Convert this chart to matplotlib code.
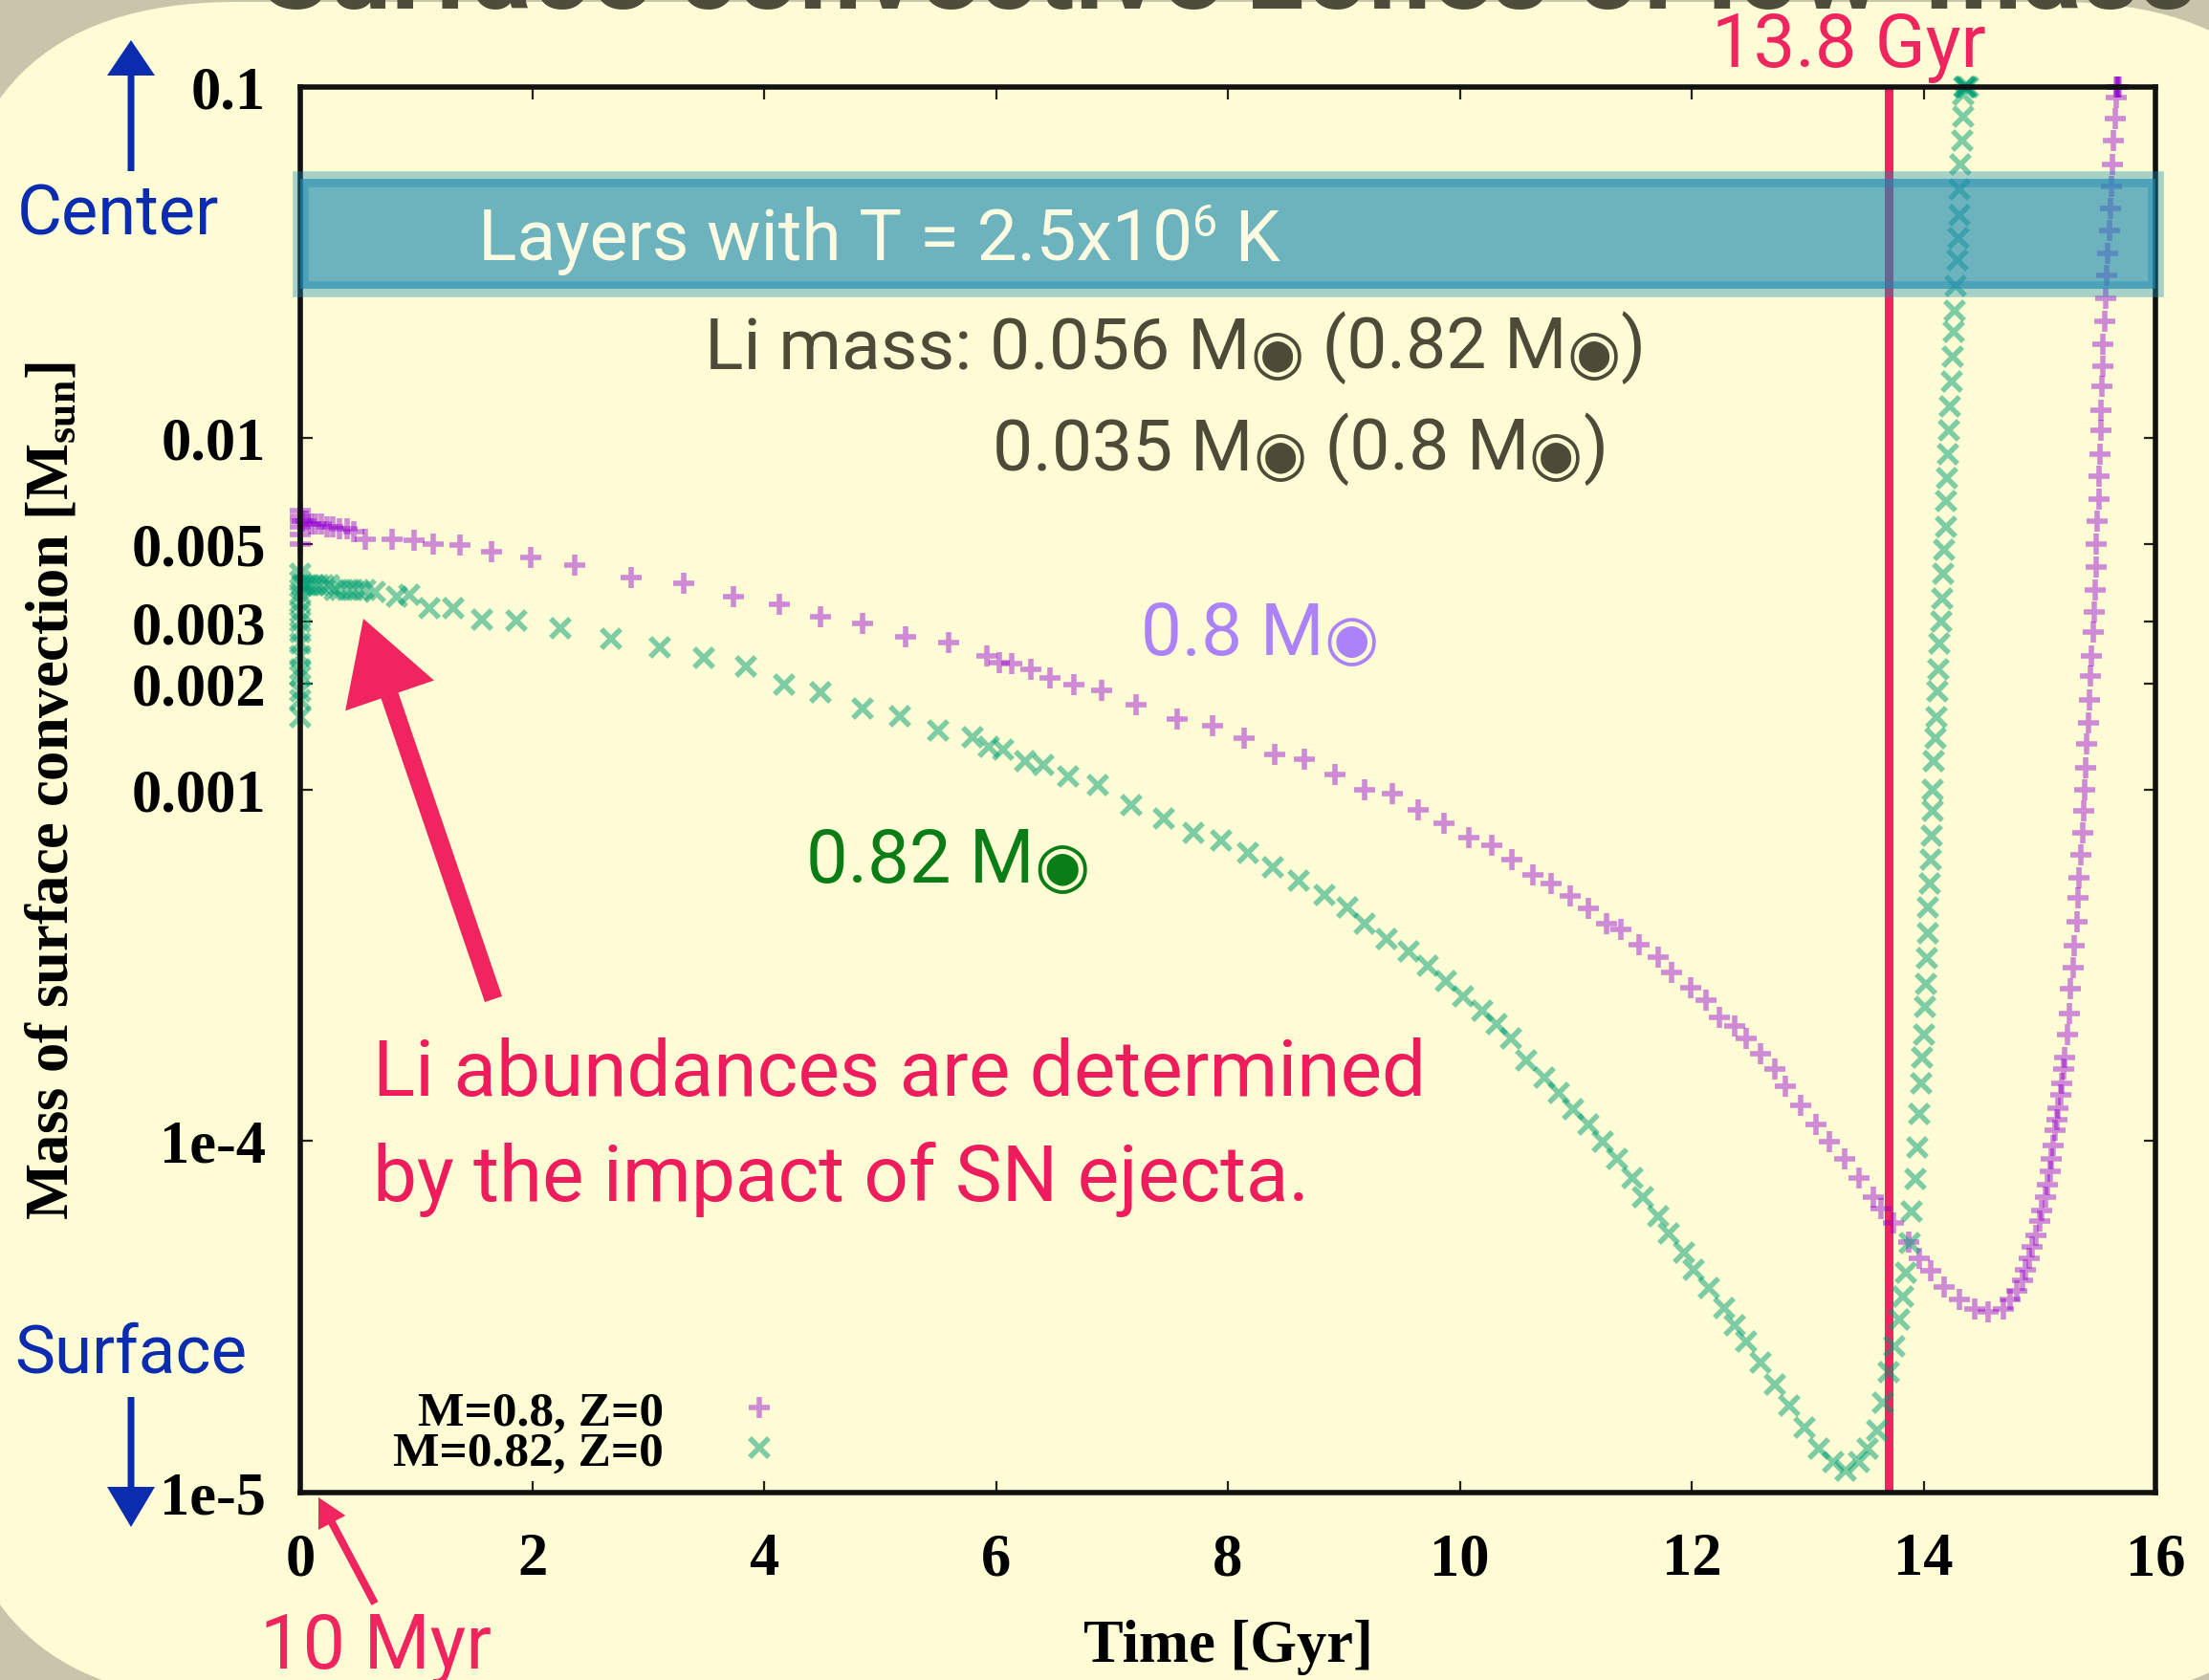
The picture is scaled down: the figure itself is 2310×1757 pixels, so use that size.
import matplotlib
matplotlib.use("Agg")
import matplotlib.pyplot as plt
from matplotlib.patches import FancyBboxPatch, FancyArrow, Rectangle
from matplotlib.ticker import FixedLocator, FixedFormatter, NullLocator

plt.rcParams['mathtext.fontset'] = 'custom'
plt.rcParams['mathtext.rm'] = 'Liberation Serif:bold'
plt.rcParams['mathtext.it'] = 'Liberation Serif:bold:italic'
plt.rcParams['mathtext.bf'] = 'Liberation Serif:bold'

W, H = 2310, 1758
SANS = ['Roboto', 'DejaVu Sans']
SERIF = 'Liberation Serif'
PINK = '#f0245e'
BLUE = '#0b2cae'
GRAY = '#4d4a38'

# ---- data: time [Gyr], mass of surface convection [Msun]
t_08 = [0, 0, 0, 0, 0, 0, 0.02, 0.05, 0.09, 0.13, 0.18, 0.23, 0.28, 0.34, 0.40, 0.46,
        0.56, 0.79, 0.98, 1.15, 1.38, 1.65, 1.99, 2.37, 2.85, 3.31, 3.74, 4.13, 4.49,
        4.85, 5.22, 5.59, 5.92, 6.03, 6.14, 6.30, 6.47, 6.67, 6.91, 7.21, 7.56, 7.87,
        8.14, 8.40, 8.66, 8.92, 9.18, 9.42, 9.64, 9.86, 10.08, 10.28, 10.45, 10.63,
        10.79, 10.95, 11.11, 11.27, 11.39, 11.55, 11.71, 11.83, 11.99, 12.12, 12.24,
        12.37, 12.47, 12.59, 12.72, 12.81, 12.94, 13.07, 13.19, 13.32, 13.44, 13.57,
        13.63, 13.74, 13.87, 13.96, 14.06, 14.18, 14.31, 14.44, 14.56, 14.69, 14.75,
        14.80, 14.85, 14.88, 14.91, 14.94, 14.97, 15.00, 15.02, 15.05, 15.07, 15.09,
        15.10, 15.12, 15.13, 15.15, 15.16, 15.18, 15.19, 15.21, 15.22,
        15.24, 15.26, 15.27, 15.29, 15.30, 15.32, 15.33, 15.34, 15.36, 15.37, 15.38,
        15.39, 15.40, 15.41, 15.42, 15.43, 15.44, 15.45, 15.46, 15.47, 15.48, 15.49,
        15.49, 15.50, 15.51, 15.51, 15.52, 15.53, 15.53, 15.54, 15.55, 15.55, 15.56,
        15.57, 15.58, 15.59, 15.60, 15.61, 15.62, 15.63, 15.64, 15.65, 15.66, 15.66,
        15.67, 15.68, 15.69]
m_08 = [0.0062, 0.0060, 0.0058, 0.0056, 0.0053, 0.0050, 0.0058, 0.0058, 0.0057, 0.0057,
        0.0057, 0.0056, 0.0056, 0.0055, 0.0055, 0.0054,
        0.00515, 0.00515, 0.00512, 0.00499, 0.00495, 0.00474, 0.00457, 0.00435, 0.00401,
        0.00386, 0.00353, 0.00337, 0.0031, 0.00296, 0.00271, 0.00261, 0.0024, 0.00229,
        0.00228, 0.00219, 0.00207, 0.00199, 0.00191, 0.00174, 0.00158, 0.00152, 0.0014,
        0.00126, 0.00122, 0.0011, 0.001, 0.00097, 0.000873, 0.000802, 0.00073, 0.000693,
        0.00063, 0.000572, 0.000541, 0.000497, 0.000458, 0.000415, 0.0004, 0.000361,
        0.000332, 0.000301, 0.000273, 0.000251, 0.000224, 0.000212, 0.000195, 0.000177,
        0.00016, 0.000143, 0.000126, 0.000111, 9.96e-5, 8.9e-5, 7.85e-5, 6.9e-5, 6.4e-5,
        5.83e-5, 5.15e-5, 4.64e-5, 4.27e-5, 3.84e-5, 3.53e-5, 3.32e-5, 3.25e-5, 3.32e-5,
        3.53e-5, 3.75e-5, 4.0e-5, 4.3e-5, 4.64e-5, 5.0e-5, 5.37e-5, 5.9e-5, 6.34e-5,
        6.9e-5, 7.5e-5, 8.2e-5, 8.86e-5, 9.7e-5, 1.07e-4, 1.15e-4, 1.24e-4, 1.35e-4,
        1.46e-4, 1.6e-4, 1.73e-4,
        2.0e-4, 2.3e-4, 2.7e-4, 3.1e-4, 3.6e-4, 4.2e-4, 4.9e-4, 5.6e-4, 6.5e-4, 7.5e-4,
        8.7e-4, 1.0e-3, 1.15e-3, 1.35e-3, 1.55e-3, 1.8e-3, 2.1e-3, 2.4e-3, 2.8e-3, 3.2e-3,
        3.7e-3, 4.3e-3, 5.0e-3, 5.8e-3, 6.7e-3, 7.8e-3, 9.0e-3, 1.05e-2, 1.2e-2, 1.4e-2,
        1.6e-2, 1.85e-2, 2.15e-2, 2.5e-2, 2.9e-2, 3.35e-2, 3.9e-2, 4.5e-2, 5.2e-2, 6.0e-2,
        7.0e-2, 8.1e-2, 9.3e-2, 0.1, 0.1, 0.1, 0.1]

t_082 = [0, 0, 0, 0, 0, 0, 0, 0, 0, 0, 0, 0, 0, 0,
         0.02, 0.05, 0.08, 0.12, 0.16, 0.20, 0.25, 0.30, 0.35, 0.40, 0.45, 0.50, 0.56,
         0.64, 0.83, 0.94, 1.11, 1.32, 1.57, 1.86, 2.24, 2.68, 3.10, 3.48, 3.84, 4.17,
         4.49, 4.85, 5.17, 5.50, 5.80, 5.94, 6.06, 6.25, 6.41, 6.62, 6.88, 7.17, 7.45,
         7.70, 7.94, 8.17, 8.39, 8.61, 8.83, 9.03, 9.18, 9.37, 9.56, 9.72, 9.88, 10.03,
         10.19, 10.32, 10.44, 10.57, 10.73, 10.85, 10.98, 11.11, 11.23, 11.36, 11.49,
         11.58, 11.71, 11.80, 11.93, 12.02, 12.15, 12.28, 12.37, 12.47, 12.59, 12.72,
         12.84, 12.97, 13.10, 13.22, 13.33, 13.44, 13.52, 13.60, 13.65, 13.70, 13.75,
         13.79, 13.82, 13.85, 13.88, 13.90, 13.93, 13.95, 13.96, 13.98, 13.99,
         14.00, 14.01, 14.02, 14.03, 14.04, 14.04, 14.05, 14.06, 14.07, 14.08, 14.08,
         14.09, 14.10, 14.11, 14.12, 14.13, 14.14, 14.15, 14.16, 14.17, 14.18, 14.19,
         14.19, 14.20, 14.21, 14.22, 14.23, 14.24, 14.25, 14.26, 14.27, 14.28, 14.29,
         14.30, 14.31, 14.31, 14.32, 14.33, 14.34, 14.34, 14.35, 14.36, 14.37, 14.38]
m_082 = [0.0041, 0.0039, 0.0036, 0.0034, 0.0032, 0.0030, 0.0028, 0.0026, 0.0024, 0.0022,
         0.0021, 0.0019, 0.0018, 0.0016,
         0.0038, 0.0038, 0.0038, 0.0038, 0.0038, 0.0038, 0.0038, 0.0037, 0.0037, 0.0037,
         0.0037, 0.0037, 0.0037,
         0.00365, 0.00353, 0.00358, 0.00328, 0.00328, 0.00305, 0.00302, 0.00287, 0.00269,
         0.00253, 0.00236, 0.00223, 0.00199, 0.00189, 0.0017, 0.00162, 0.00147, 0.00141,
         0.00132, 0.0013, 0.0012, 0.00117, 0.00109, 0.00103, 0.0009, 0.000828, 0.000754,
         0.000715, 0.000658, 0.000599, 0.000551, 0.000501, 0.000461, 0.000415, 0.000376,
         0.000346, 0.000314, 0.000284, 0.000258, 0.000234, 0.000215, 0.000195, 0.000169,
         0.000151, 0.000137, 0.000123, 0.000111, 9.96e-5, 8.9e-5, 7.85e-5, 6.9e-5, 6.1e-5,
         5.46e-5, 4.81e-5, 4.3e-5, 3.8e-5, 3.35e-5, 2.99e-5, 2.68e-5, 2.33e-5, 2.02e-5,
         1.76e-5, 1.53e-5, 1.33e-5, 1.22e-5, 1.15e-5, 1.22e-5, 1.33e-5, 1.5e-5, 1.8e-5,
         2.2e-5, 2.6e-5, 3.1e-5, 3.6e-5, 4.2e-5, 5.1e-5, 6.3e-5, 7.8e-5, 9.6e-5, 1.19e-4,
         1.46e-4, 1.73e-4,
         2.0e-4, 2.4e-4, 2.8e-4, 3.3e-4, 3.9e-4, 4.6e-4, 5.4e-4, 6.3e-4, 7.4e-4, 8.7e-4,
         1.0e-3, 1.2e-3, 1.4e-3, 1.6e-3, 1.9e-3, 2.2e-3, 2.6e-3, 3.0e-3, 3.5e-3, 4.1e-3,
         4.8e-3, 5.6e-3, 6.6e-3, 7.7e-3, 9.0e-3, 1.05e-2, 1.23e-2, 1.45e-2, 1.7e-2, 2.0e-2,
         2.3e-2, 2.7e-2, 3.2e-2, 3.7e-2, 4.3e-2, 5.1e-2, 6.0e-2, 7.0e-2, 8.2e-2, 9.5e-2,
         0.1, 0.1, 0.1, 0.1]

t_now = 13.7                       # red vertical line
band_lo, band_hi = 0.0265, 0.0546  # layers with T = 2.5e6 K

ytick_vals = [1e-5, 1e-4, 1e-3, 2e-3, 3e-3, 5e-3, 1e-2, 0.1]
ytick_labels = ['1e-5', '1e-4', '0.001', '0.002', '0.003', '0.005', '0.01', '0.1']
xtick_vals = list(range(0, 17, 2))

fig = plt.figure(figsize=(W / 100, H / 100), dpi=100, facecolor='#c9c5aa')

# rounded slide panel
panel = FancyBboxPatch((-0.53, -0.22), 25.04, 17.77,
                       boxstyle='round,pad=0,rounding_size=3.0',
                       transform=fig.dpi_scale_trans, facecolor='#fefcd5',
                       edgecolor='none', zorder=-10)
fig.add_artist(panel)

ax = fig.add_axes([314 / W, 1 - 1561.5 / H, 1940 / W, 1470 / H])
ax.set_facecolor('none')
ax.set_yscale('log')
ax.set_xlim(0, 16)
ax.set_ylim(1e-5, 0.1)

ax.axvline(t_now, color=PINK, lw=6.5, zorder=1)

ax.plot(t_08, m_08, ls='none', marker='+', ms=16, mew=4, color='#9400d3',
        alpha=0.45, clip_on=False, zorder=2, label='M=0.8, Z=0')
ax.plot(t_082, m_082, ls='none', marker='x', ms=14, mew=4, color='#009e73',
        alpha=0.5, clip_on=False, zorder=2, label='M=0.82, Z=0')

# temperature band
ax.add_patch(Rectangle((0, band_lo), 16, band_hi - band_lo, facecolor='#1a8bb2',
                       edgecolor='none', alpha=0.64, zorder=3))
ax.add_patch(Rectangle((0, band_lo), 16, band_hi - band_lo, fill=False,
                       edgecolor='#1a8bb2', lw=12, alpha=0.38, zorder=3, clip_on=False))

ax.yaxis.set_major_locator(FixedLocator(ytick_vals))
ax.yaxis.set_major_formatter(FixedFormatter(ytick_labels))
ax.yaxis.set_minor_locator(NullLocator())
ax.set_xticks(xtick_vals)
for lab in ax.get_xticklabels() + ax.get_yticklabels():
    lab.set_fontfamily(SERIF)
    lab.set_fontweight('bold')
    lab.set_fontsize(45)
ax.tick_params(which='both', direction='in', top=True, right=True, length=9, width=1.6,
               color='#222222')
ax.tick_params(axis='y', pad=26)
ax.tick_params(axis='x', pad=30)
for sp in ax.spines.values():
    sp.set_linewidth(4)
    sp.set_color('#111111')

ax.set_xlabel('Time [Gyr]', fontfamily=SERIF, fontweight='bold', fontsize=45)
ax.xaxis.set_label_coords(0.5, -0.09)
ax.set_ylabel('Mass of surface convection [M$_{\\mathrm{sun}}$]', fontfamily=SERIF,
              fontweight='bold', fontsize=45)
ax.yaxis.set_label_coords(-0.118, 0.5)

leg = ax.legend(loc='lower left', bbox_to_anchor=(0.05, 0.012), frameon=False,
                markerfirst=False, numpoints=1, handlelength=1.5, handletextpad=1.2,
                labelspacing=-0.1, borderaxespad=0, borderpad=0,
                prop={'family': SERIF, 'weight': 'bold', 'size': 37})
for col in leg._legend_handle_box.get_children():
    col.align = 'right'


def rich(X, Y, parts, color, size):
    """Chain text pieces; 'sun' pieces are a smaller subscript sun symbol."""
    first = ax.annotate(parts[0][0], xy=(X, H - Y), xycoords='figure pixels',
                        fontsize=size, color=color, family=SANS, va='baseline',
                        ha='left', annotation_clip=False, zorder=6)
    prev = first
    for s, kind in parts[1:]:
        if kind == 'sun':
            fs, dy = size * 0.86, -size * 0.02
        elif kind == 'sup':
            fs, dy = size * 0.62, size * 0.42
        else:
            fs, dy = size, 0
        prev = ax.annotate(s, xy=(1, 0), xycoords=(prev, first), xytext=(0, dy),
                           textcoords='offset points', fontsize=fs, color=color,
                           family=SANS, va='bottom', ha='left',
                           annotation_clip=False, zorder=6)
    return first


rich(500, 272, [('Layers with T = 2.5x10', 'n'), ('6', 'sup'), (' K', 'n')],
     '#fdfbe2', 54)
rich(737, 387, [('Li mass: 0.056 M', 'n'), ('◉', 'sun'), (' (0.82 M', 'n'),
                ('◉', 'sun'), (')', 'n')], GRAY, 54)
rich(1038, 493, [('0.035 M', 'n'), ('◉', 'sun'), (' (0.8 M', 'n'), ('◉', 'sun'),
                 (')', 'n')], GRAY, 54)
rich(1193, 685, [('0.8 M', 'n'), ('◉', 'sun')], '#ab82f7', 55)
rich(843, 923, [('0.82 M', 'n'), ('◉', 'sun')], '#0b7d16', 56)

fig.text(390 / W, 1 - 1146 / H, 'Li abundances are determined', color='#ee1c5c',
         fontsize=59, family=SANS, va='baseline')
fig.text(390 / W, 1 - 1256 / H, 'by the impact of SN ejecta.', color='#ee1c5c',
         fontsize=59, family=SANS, va='baseline')
fig.text(1933 / W, 1 - 70 / H, '13.8 Gyr', color=PINK, fontsize=56, family=SANS,
         va='baseline', ha='center')
fig.text(18 / W, 1 - 246 / H, 'Center', color=BLUE, fontsize=52, family=SANS,
         va='baseline')
fig.text(15 / W, 1 - 1436 / H, 'Surface', color=BLUE, fontsize=51, family=SANS,
         va='baseline')
fig.text(272 / W, 1 - 1745 / H, '10 Myr', color=PINK, fontsize=57, family=SANS,
         va='baseline')
fig.text(1285 / W, 1 - 9 / H, 'Surface convective zones of low-mass', color='#4e4c3b',
         fontsize=84, family=SANS, weight='bold', va='baseline', ha='center')


def arrow(x0, y0, x1, y1, width, hw, hl, color):
    a = FancyArrow(x0 / 100, (H - y0) / 100, (x1 - x0) / 100, (y0 - y1) / 100,
                   width=width, head_width=hw, head_length=hl,
                   length_includes_head=True, transform=fig.dpi_scale_trans,
                   color=color, zorder=8, lw=0)
    fig.add_artist(a)


arrow(516, 1046, 380, 648, 0.19, 0.98, 0.85, '#f0245e')
arrow(392, 1678, 333, 1567, 0.08, 0.32, 0.3, '#f0245e')
arrow(137, 180, 137, 43, 0.07, 0.5, 0.37, BLUE)
arrow(137, 1462, 137, 1598, 0.07, 0.5, 0.42, BLUE)

fig.savefig('out.png', dpi=100, facecolor=fig.get_facecolor())
